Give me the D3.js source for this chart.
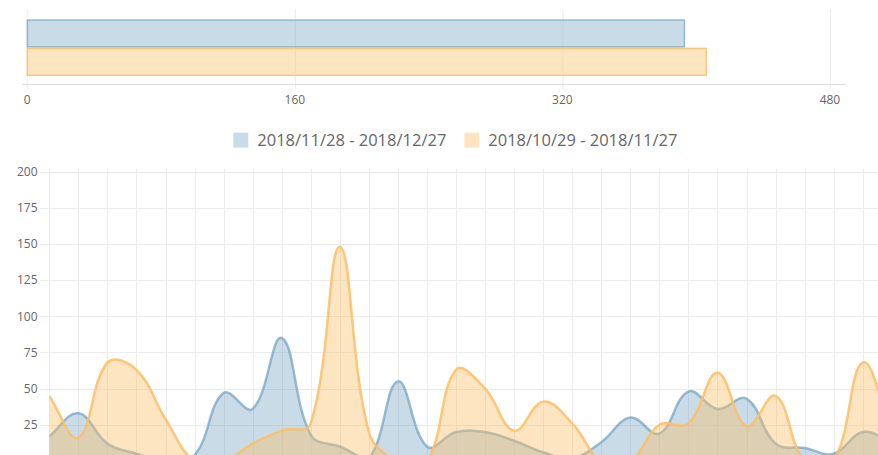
<!DOCTYPE html>
<html>
<head>
<meta charset="utf-8">
<script src="https://cdn.jsdelivr.net/npm/d3@7"></script>
<style>
    html, body { margin: 0; padding: 0; background: #fff; overflow: hidden; }
    svg { display: block; font-family: "Open Sans", sans-serif; }
    .tick-label { fill: #666; font-size: 12px; }
    .legend-label { fill: #666; font-size: 16.5px; }
</style>
</head>
<body>
<svg id="chart" width="878" height="455"></svg>
<script>
// ---- data ----
const seriesNames = ["2018/11/28 - 2018/12/27", "2018/10/29 - 2018/11/27"];
const totals = [393, 406];
const totalTicks = [0, 160, 320, 480];
const totalMax = 489.6;

const days = ["11/28", "11/29", "11/30", "12/01", "12/02", "12/03", "12/04", "12/05", "12/06", "12/07",
    "12/08", "12/09", "12/10", "12/11", "12/12", "12/13", "12/14", "12/15", "12/16", "12/17",
    "12/18", "12/19", "12/20", "12/21", "12/22", "12/23", "12/24", "12/25", "12/26", "12/27"];
const currentDaily = [17, 33, 12, 5, 0, 4, 47, 36, 85, 18, 10, 2, 55, 10, 20, 20, 14, 6, 2, 13,
    30, 19, 48, 36, 43, 12, 9, 5, 20, 13];
const previousDaily = [45, 16, 68, 63, 29, 0, 0, 12, 21, 26, 148, 20, 0, 0, 63, 50, 21, 41, 26, 0,
    0, 25, 26, 61, 24, 45, 0, 0, 68, 20];
const dailyTicks = [0, 25, 50, 75, 100, 125, 150, 175, 200];

const colors = [
    {fill: "rgba(120,165,195,0.4)", line: "rgba(120,165,195,0.75)"},
    {fill: "rgba(253,190,100,0.4)", line: "rgba(253,190,100,0.85)"}
];
const gridColor = "#ececec";

const svg = d3.select("#chart");

// spline like chart.js (tension 0.4, control points capped to the plot area)
function splineCurve(tension, yMin, yMax) {
    return function (context) {
        let pts = [];
        return {
            areaStart() { this._line = 0; },
            areaEnd() { this._line = NaN; },
            lineStart() { pts = []; },
            point(x, y) { pts.push({x: +x, y: +y}); },
            lineEnd() {
                const n = pts.length;
                if (!n) return;
                pts.forEach((p, i) => {
                    const prev = pts[i - 1] || p, next = pts[i + 1] || p;
                    const d01 = Math.hypot(p.x - prev.x, p.y - prev.y);
                    const d12 = Math.hypot(next.x - p.x, next.y - p.y);
                    let s01 = d01 / (d01 + d12), s12 = d12 / (d01 + d12);
                    if (isNaN(s01)) s01 = 0;
                    if (isNaN(s12)) s12 = 0;
                    const fa = tension * s01, fb = tension * s12;
                    const cap = v => Math.max(yMin, Math.min(yMax, v));
                    p.cpPrev = {x: p.x - fa * (next.x - prev.x), y: cap(p.y - fa * (next.y - prev.y))};
                    p.cpNext = {x: p.x + fb * (next.x - prev.x), y: cap(p.y + fb * (next.y - prev.y))};
                });
                if (this._line) context.lineTo(pts[0].x, pts[0].y);
                else context.moveTo(pts[0].x, pts[0].y);
                for (let i = 1; i < n; i++) {
                    const a = pts[i - 1], b = pts[i];
                    context.bezierCurveTo(a.cpNext.x, a.cpNext.y, b.cpPrev.x, b.cpPrev.y, b.x, b.y);
                }
                if (this._line) context.closePath();
                this._line = 1 - this._line;
            }
        };
    };
}

// ---- top: horizontal totals ----
const topBox = {left: 27.3, right: 846, top: 9, axisY: 84.5};
const xTop = d3.scaleLinear().domain([0, totalMax]).range([topBox.left, topBox.right]);
const bandTop = d3.scaleBand().domain(d3.range(totals.length)).range([19.3, 76]).padding(0);

const gTop = svg.append("g").attr("class", "top-chart");

gTop.selectAll(".grid-x")
    .data(totalTicks)
    .enter()
    .append("line")
    .attr("class", "grid-x")
    .attr("x1", d => xTop(d) + 0.5)
    .attr("x2", d => xTop(d) + 0.5)
    .attr("y1", topBox.top)
    .attr("y2", topBox.axisY + 5)
    .attr("stroke", gridColor)

gTop.append("line")
    .attr("x1", topBox.left - 5)
    .attr("x2", topBox.right)
    .attr("y1", topBox.axisY)
    .attr("y2", topBox.axisY)
    .attr("stroke", "#dcdcdc")

gTop.selectAll(".bar")
    .data(totals)
    .enter()
    .append("rect")
    .attr("class", "bar")
    .attr("x", xTop(0))
    .attr("y", (d, i) => bandTop(i) + 0.75)
    .attr("width", d => xTop(d) - xTop(0))
    .attr("height", bandTop.bandwidth() - 1.5)
    .attr("fill", (d, i) => colors[i].fill)
    .attr("stroke", (d, i) => colors[i].line)
    .attr("stroke-width", 1.5)

gTop.selectAll(".top-label")
    .data(totalTicks)
    .enter()
    .append("text")
    .attr("class", "tick-label")
    .attr("x", d => xTop(d))
    .attr("y", 104)
    .attr("text-anchor", "middle")
    .text(d => d)

// ---- legend ----
const legend = svg.append("g").attr("class", "legend");
const legendX = [233.3, 464.3];
seriesNames.forEach((name, i) => {
    legend.append("rect")
        .attr("x", legendX[i])
        .attr("y", 132.7)
        .attr("width", 15)
        .attr("height", 15)
        .attr("fill", colors[i].fill)
    legend.append("text")
        .attr("class", "legend-label")
        .attr("x", legendX[i] + 24)
        .attr("y", 146.3)
        .text(name)
});

// ---- bottom: daily areas ----
const x = d3.scalePoint().domain(days).range([49.3, 891.8]);
const y = d3.scaleLinear().domain([0, 200]).range([461, 171.6]);

const gDaily = svg.append("g").attr("class", "daily-chart");

gDaily.selectAll(".grid-v")
    .data(days)
    .enter()
    .append("line")
    .attr("class", "grid-v")
    .attr("x1", d => Math.round(x(d)) + 0.5)
    .attr("x2", d => Math.round(x(d)) + 0.5)
    .attr("y1", y(200) - 3)
    .attr("y2", y(0))
    .attr("stroke", gridColor)

gDaily.selectAll(".grid-h")
    .data(dailyTicks)
    .enter()
    .append("line")
    .attr("class", "grid-h")
    .attr("x1", 40)
    .attr("x2", 892)
    .attr("y1", d => Math.round(y(d)) + 0.5)
    .attr("y2", d => Math.round(y(d)) + 0.5)
    .attr("stroke", gridColor)

gDaily.selectAll(".y-label")
    .data(dailyTicks)
    .enter()
    .append("text")
    .attr("class", "tick-label")
    .attr("x", 37.5)
    .attr("y", d => y(d))
    .attr("dy", "0.36em")
    .attr("text-anchor", "end")
    .text(d => d)

const curve = splineCurve(0.4, y(200), y(0));
const area = d3.area()
    .x((d, i) => x(days[i]))
    .y0(y(0))
    .y1(d => y(d))
    .curve(curve);
const line = d3.line()
    .x((d, i) => x(days[i]))
    .y(d => y(d))
    .curve(curve);

svg.append("clipPath").attr("id", "plot-clip")
    .append("rect")
    .attr("x", 49.3)
    .attr("y", y(200))
    .attr("width", 891.8 - 49.3)
    .attr("height", y(0) - y(200));

const seriesG = gDaily.append("g").attr("clip-path", "url(#plot-clip)");
[currentDaily, previousDaily].forEach((values, i) => {
    seriesG.append("path")
        .attr("d", area(values))
        .attr("fill", colors[i].fill)
    seriesG.append("path")
        .attr("d", line(values))
        .attr("fill", "none")
        .attr("stroke", colors[i].line)
        .attr("stroke-width", 2.5)
});
</script>
</body>
</html>
